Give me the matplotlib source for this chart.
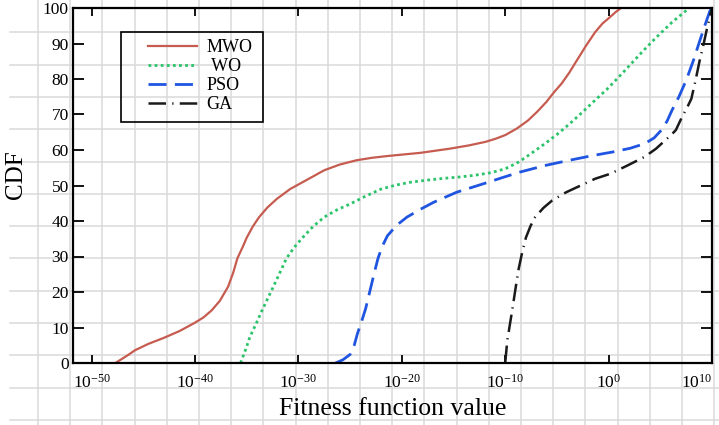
import numpy as np
import matplotlib
matplotlib.use("Agg")
import matplotlib.pyplot as plt
from matplotlib.patches import Rectangle

plt.rcParams['font.family'] = ['Liberation Serif', 'DejaVu Serif']
plt.rcParams['mathtext.default'] = 'regular'
plt.rcParams['axes.unicode_minus'] = False

# CDF curves: log10 of fitness value vs cumulative percentage
mwo_logx = [-47.7, -46.5, -45.8, -44.5, -43.0, -41.5, -40.1, -39.2, -38.4, -37.6,
            -36.8, -36.3, -35.9, -35.4, -35.0, -34.4, -33.8, -33.0, -32.1, -30.8,
            -29.3, -27.5, -26.0, -24.4, -22.9, -21.4, -18.2, -15.3, -13.5, -11.9,
            -10.9, -10.0, -8.9, -7.8, -6.9, -6.0, -5.3, -4.55, -3.8, -3.1,
            -2.2, -1.3, -0.6, 0.16, 0.7, 1.2]
mwo_cdf = [0, 2.2, 3.6, 5.4, 7.1, 9.0, 11.2, 12.8, 14.8, 17.5,
           21.5, 25.5, 29.5, 32.6, 35.3, 38.5, 41.1, 43.8, 46.2, 49.0,
           51.4, 54.3, 55.9, 57.1, 57.8, 58.3, 59.2, 60.4, 61.3, 62.3,
           63.2, 64.2, 66.0, 68.3, 70.8, 73.6, 76.2, 78.7, 81.8, 85.1,
           89.3, 93.2, 95.6, 97.5, 98.9, 100]

wo_logx = [-35.6, -35.1, -34.7, -34.1, -33.6, -32.8, -32.1, -31.15, -30.4, -29.6,
           -28.6, -27.5, -26.3, -25.0, -23.5, -22.0, -20.6, -19.2, -17.6, -16.0,
           -14.4, -12.9, -11.4, -10.0, -8.7, -7.5, -6.2, -4.9, -3.8, -2.7,
           -1.5, -0.2, 1.0, 2.15, 3.3, 4.5, 6.1, 7.8]
wo_cdf = [0, 3.8, 7.3, 11.0, 14.3, 19.2, 23.5, 29.5, 32.6, 35.3,
          38.4, 41.1, 43.1, 44.8, 47.0, 49.0, 50.1, 50.9, 51.5, 52.0,
          52.4, 52.9, 53.6, 54.7, 56.6, 59.0, 61.7, 64.6, 67.3, 70.2,
          73.5, 77.0, 80.6, 84.2, 87.8, 91.4, 95.9, 100]

pso_logx = [-26.4, -25.7, -25.0, -24.6, -24.3, -23.9, -23.5, -23.2, -22.9, -22.6,
            -22.3, -21.9, -21.4, -20.5, -19.5, -18.2, -16.9, -14.7, -12.1, -10.3,
            -8.55, -6.2, -3.8, -1.6, 0.5, 2.1, 3.5, 4.4, 5.1, 5.65,
            6.1, 6.8, 7.5, 8.2, 8.8, 9.3, 9.8, 10.0]
pso_cdf = [0, 0.9, 2.4, 5.0, 8.2, 11.6, 15.3, 18.9, 22.5, 26.1,
           29.5, 32.8, 35.8, 38.8, 41.1, 43.3, 45.3, 48.1, 50.5, 52.2,
           53.8, 55.6, 57.1, 58.4, 59.5, 60.5, 61.8, 63.4, 65.6, 68.1,
           71.0, 75.0, 79.6, 85.2, 90.6, 95.0, 99.2, 100]

ga_logx = [-10.0, -9.8, -9.55, -9.3, -9.0, -8.7, -8.35, -8.0, -7.55, -7.1,
           -6.3, -5.45, -4.1, -2.7, -1.3, 0.16, 1.8, 3.5, 4.6, 5.5,
           6.0, 6.5, 7.1, 7.6, 8.0, 8.4, 8.8, 9.2, 9.5, 10.0]
ga_cdf = [0, 6.3, 10.8, 15.3, 21.0, 26.5, 31.3, 35.3, 38.6, 41.1,
          43.7, 45.8, 48.1, 50.0, 51.9, 53.3, 55.6, 58.1, 60.4, 62.8,
          64.1, 65.6, 69.3, 72.0, 74.4, 79.5, 85.1, 90.0, 94.0, 100]

x_tick_exp = [-50, -40, -30, -20, -10, 0, 10]
y_ticks = list(range(0, 101, 10))

fig = plt.figure(figsize=(7.19, 4.25), dpi=100)
fig.patch.set_facecolor('white')

# graph-paper background over the whole figure
bg = fig.add_axes([0, 0, 1, 1], zorder=0)
bg.set_xlim(0, 719)
bg.set_ylim(425, 0)
bg.axis('off')
for gx in 5.8 + 32.2 * np.arange(1, 23):
    bg.plot([gx, gx], [0, 425], color='#dadada', lw=1.1)
for gy in 32.3 * np.arange(1, 14):
    bg.plot([10, 719], [gy, gy], color='#dadada', lw=1.1)

ax = fig.add_axes([73 / 719, 62 / 425, 639 / 719, 355 / 425], zorder=1)
ax.set_facecolor('none')

ax.plot(10.0 ** np.array(mwo_logx), mwo_cdf, color='#c65c50', lw=1.6, label='MWO')
ax.plot(10.0 ** np.array(wo_logx), wo_cdf, color='#2cc46a', lw=2.0,
        dashes=(1, 1.2), label=' WO')
ax.plot(10.0 ** np.array(pso_logx), pso_cdf, color='#1f55e0', lw=2.0,
        dashes=(6.5, 3), label='PSO')
ax.plot(10.0 ** np.array(ga_logx), ga_cdf, color='#1a1a1a', lw=1.8,
        dashes=(7, 2.5, 0.5, 2.5), label='GA')

ax.set_xscale('log')
ax.set_xlim(10.0 ** -51.8, 1e10)
ax.set_ylim(0, 100)
ax.set_xticks([10.0 ** e for e in x_tick_exp])
ax.set_xticklabels([r'$10^{%d}$' % e for e in x_tick_exp])
ax.get_xticklabels()[-1].set_horizontalalignment('right')
ax.xaxis.set_minor_locator(matplotlib.ticker.NullLocator())
ax.set_yticks(y_ticks)

ax.tick_params(axis='both', direction='in', top=True, right=True,
               labelsize=12.5, width=1.3, colors='black')
ax.tick_params(axis='x', length=6, pad=8)
ax.tick_params(axis='y', length=8, pad=3)
for sp in ax.spines.values():
    sp.set_linewidth(1.6)

ax.set_xlabel('Fitness function value', fontsize=18.5, labelpad=4)
ax.set_ylabel('CDF', fontsize=18)
ax.yaxis.set_label_coords(-0.072, 0.53)

ax.legend(loc='upper left', bbox_to_anchor=(0.1033, 0.937), frameon=False,
          borderpad=0, fontsize=13, handlelength=2.7, handletextpad=0.55,
          labelspacing=0.11)
ax.add_patch(Rectangle((0.0751, 0.6789), 0.2222, 0.2535, transform=ax.transAxes,
                       fill=False, edgecolor='black', lw=1.2, zorder=5))

fig.savefig('out.png', dpi=100)
